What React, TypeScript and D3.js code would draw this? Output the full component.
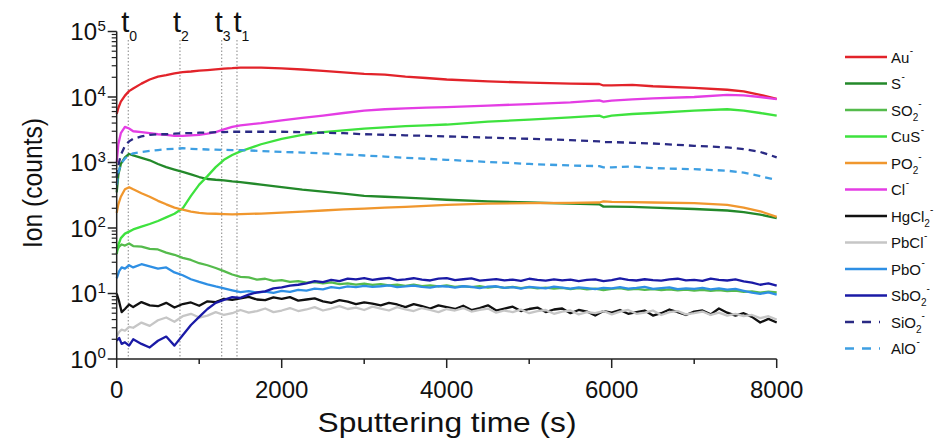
import React from 'react';
import * as d3 from 'd3';

const W = 941;
const H = 441;

// time grids (s)
const tSmooth = [0, 20, 50, 100, 150, 200, 300, 400, 500, 600, 700, 800, 900, 1000, 1100, 1200, 1300, 1400, 1500,
  1750, 2000, 2250, 2500, 2750, 3000, 3250, 3500, 3750, 4000, 4500, 5000, 5500, 5850, 5900, 6000, 6250, 6500,
  7000, 7400, 7600, 7800, 8000];
const tNoisy = [0, 30, 60, 100, 150, ...d3.range(200, 8001, 100)];

// smooth series (counts) on tSmooth
const au = [5500, 6800, 8500, 10500, 12300, 13500, 16000, 18500, 20500, 21500, 23000, 24000, 24500, 25200, 25800,
  26500, 27200, 27500, 28000, 28000, 27300, 26300, 25000, 23800, 22500, 22000, 20500, 19500, 18500, 17300, 16600,
  16000, 15800, 15000, 15100, 15300, 14600, 13800, 12900, 12200, 10800, 9400];
const s = [350, 650, 950, 1200, 1350, 1280, 1180, 1080, 950, 850, 780, 720, 660, 600, 560, 545, 535, 515, 500, 460,
  420, 385, 360, 335, 310, 300, 290, 280, 270, 255, 245, 235, 230, 212, 212, 210, 205, 195, 185, 175, 160, 142];
const cus = [40, 55, 70, 82, 88, 95, 105, 115, 128, 145, 165, 200, 310, 460, 620, 850, 1100, 1300, 1480, 1900, 2300,
  2650, 2900, 3100, 3300, 3450, 3600, 3700, 3800, 4200, 4500, 4900, 5200, 4900, 5200, 5500, 5700, 6200, 6500, 6200,
  5700, 5200];
const po2 = [170, 230, 300, 390, 420, 390, 340, 300, 260, 230, 205, 190, 178, 170, 166, 165, 163, 162, 163, 166, 172,
  178, 185, 192, 198, 204, 210, 218, 225, 235, 240, 242, 245, 255, 250, 248, 245, 240, 225, 205, 180, 148];
const cl = [1000, 1900, 2800, 3500, 3300, 3000, 2900, 2800, 2700, 2650, 2550, 2550, 2600, 2650, 2750, 2900, 3200, 3500,
  3700, 4000, 4400, 4800, 5200, 5700, 6200, 6500, 6700, 6900, 7000, 7400, 7800, 8300, 8900, 8500, 8800, 9200, 9500,
  10000, 10800, 10600, 10000, 9300];
const sio2 = [600, 900, 1300, 1800, 2100, 2300, 2500, 2650, 2700, 2700, 2750, 2800, 2800, 2850, 2850, 2900, 2900, 2950,
  2950, 2950, 2950, 2900, 2850, 2800, 2700, 2650, 2600, 2550, 2500, 2400, 2300, 2200, 2100, 2050, 2050, 2000, 1950,
  1800, 1700, 1600, 1450, 1200];
const alo = [450, 700, 950, 1150, 1300, 1380, 1450, 1500, 1550, 1600, 1620, 1650, 1620, 1600, 1580, 1570, 1560, 1550,
  1550, 1500, 1450, 1420, 1380, 1330, 1280, 1230, 1180, 1140, 1100, 1020, 950, 900, 880, 840, 840, 870, 820, 790,
  750, 700, 620, 540];

// noisy series (counts) on tNoisy
const so2 = [45, 52, 56, 54, 58,
  53, 52, 48, 47, 42, 39, 35, 32.5, 29,
  27, 24.5, 22, 19.5, 18, 17.6, 16.3, 16.8, 15.6, 16.0,
  15.0, 15.5, 14.6, 14.9, 14.3, 14.8, 13.9, 14.3, 13.7, 14.2,
  13.5, 13.9, 13.3, 13.6, 13.1, 13.6, 12.9, 13.3, 12.8, 13.3,
  12.6, 13.0, 12.5, 12.9, 12.3, 12.7, 12.2, 12.6, 12.1, 12.5,
  12.0, 12.3, 11.9, 12.2, 11.7, 12.1, 11.6, 11.9, 11.3, 11.8,
  12.1, 11.5, 11.8, 11.4, 11.7, 11.3, 11.6, 11.2, 11.5, 11.1,
  11.4, 11.0, 11.3, 10.9, 11.1, 10.6, 10.8, 10.3, 10.7, 10.4];
const hgcl2 = [10, 7.5, 5.2, 5.8, 6.8,
  6.2, 7.4, 6.6, 6.4, 7.2, 6.1, 6.9, 7.3, 6.5,
  7.6, 7.4, 8.3, 8.0, 8.4, 8.9, 8.1, 7.9, 8.7, 8.3,
  8.8, 7.8, 8.1, 8.4, 7.6, 7.2, 7.9, 7.5, 6.9, 7.3,
  7.0, 6.6, 7.2, 6.8, 6.2, 6.9, 6.4, 5.9, 6.6, 6.2,
  5.8, 6.5, 5.6, 6.0, 6.6, 5.5, 5.9, 6.3, 5.4, 5.8,
  6.1, 5.2, 5.7, 5.9, 5.0, 5.6, 5.3, 4.6, 5.4, 5.1,
  5.6, 4.9, 5.2, 5.5, 4.6, 5.0, 5.7, 5.2, 4.7, 5.3,
  5.5, 4.8, 5.9, 5.1, 4.6, 5.0, 4.4, 3.6, 4.1, 3.6];
const pbcl = [2.2, 2.6, 2.8, 2.7, 3.1,
  3.0, 3.6, 3.2, 3.9, 4.3, 3.7, 4.5, 4.9, 4.3,
  4.6, 5.2, 4.7, 5.0, 5.6, 5.1, 5.4, 5.9, 5.2, 5.5,
  6.0, 5.4, 5.7, 6.2, 5.5, 5.9, 6.4, 5.8, 6.1, 5.6,
  6.3, 5.9, 5.5, 6.2, 5.7, 5.4, 6.0, 5.6, 5.2, 5.8,
  5.5, 6.0, 5.3, 5.6, 5.9, 5.1, 5.5, 5.2, 5.7, 5.0,
  5.4, 5.6, 4.9, 5.3, 5.5, 4.8, 5.2, 5.0, 5.4, 4.8,
  5.3, 5.6, 4.9, 5.1, 5.5, 4.7, 5.2, 5.4, 4.8, 5.0,
  5.3, 4.7, 5.1, 4.6, 4.9, 4.5, 4.7, 4.2, 4.5, 4.0];
const pbo = [17, 22, 25, 24, 27,
  25, 28, 26, 24, 25, 21, 19, 16.5, 15,
  13.8, 12.8, 12.0, 11.2, 10.5, 10.9, 10.3, 10.7, 10.2, 11.0,
  10.6, 11.4, 11.1, 11.9, 11.6, 12.5, 12.1, 12.8, 12.5, 13.1,
  12.6, 12.9, 13.3, 12.5, 12.8, 13.2, 12.6, 12.3, 13.0, 12.8,
  12.3, 12.9, 12.6, 12.1, 12.7, 12.9, 12.2, 12.5, 11.9, 12.6,
  12.3, 12.0, 12.7, 12.3, 11.9, 12.4, 12.1, 11.7, 12.2, 12.0,
  12.5, 11.9, 12.2, 12.6, 11.8, 12.1, 12.4, 11.7, 12.0, 11.8,
  12.2, 11.6, 12.0, 11.5, 11.8, 11.0, 10.3, 9.9, 10.4, 9.6];
const sbo2 = [1.9, 2.1, 1.7, 1.8, 1.6,
  2.0, 1.7, 1.5, 1.9, 2.2, 1.6, 2.3, 3.3, 4.4,
  5.8, 7.2, 8.0, 8.8, 8.6, 9.6, 10.4, 10.8, 12.0, 12.4,
  13.2, 13.6, 14.3, 15.4, 14.9, 16.1, 15.4, 16.9, 16.4, 17.2,
  16.2, 16.8, 17.3, 16.0, 16.4, 17.1, 16.3, 15.8, 16.9, 17.2,
  16.0, 16.5, 17.0, 15.7, 16.2, 16.6, 15.9, 16.3, 15.6, 16.8,
  16.1, 15.7, 16.4, 15.9, 16.3, 15.5, 16.1, 16.4, 15.4, 16.0,
  17.0, 16.2, 15.8, 16.5, 16.0, 15.7, 16.4, 16.8, 15.9, 16.2,
  15.6, 16.9, 16.1, 15.8, 16.4, 15.3, 14.6, 13.6, 14.3, 13.2];

// legend labels
const names = ['Au', 'S', 'SO', 'CuS', 'PO', 'Cl', 'HgCl', 'PbCl', 'PbO', 'SbO', 'SiO', 'AlO'];
const subs = ['', '', '2', '', '2', '', '2', '', '', '2', '2', ''];
const colors = ['#e2232a', '#23892a', '#55bb4c', '#3ee23e', '#f0972e', '#e43de4', '#111111', '#c6c6c6',
  '#2e8fe4', '#1a1aa6', '#2a2a84', '#3e9fe2'];
const dashed = [false, false, false, false, false, false, false, false, false, false, true, true];
const seriesT = [tSmooth, tSmooth, tNoisy, tSmooth, tSmooth, tSmooth, tNoisy, tNoisy, tNoisy, tNoisy, tSmooth, tSmooth];
const seriesV = [au, s, so2, cus, po2, cl, hgcl2, pbcl, pbo, sbo2, sio2, alo];

// x ticks, y decades, marker times
const xMajor = [0, 2000, 4000, 6000, 8000];
const xMinor = [1000, 3000, 5000, 7000];
const yExp = [0, 1, 2, 3, 4, 5];
const markT = [140, 767, 1273, 1458];
const markSub = ['0', '2', '3', '1'];

const FONT = 'Liberation Sans, Arial, Helvetica, sans-serif';

export default function App() {
  const x = d3.scaleLinear().domain([0, 8000]).range([116.7, 776.7]);
  const y = d3.scaleLog().domain([1, 1e5]).range([359, 31.5]);
  const yMinor: number[] = [];
  for (let k = 0; k < 5; k++) for (let m = 2; m <= 9; m++) yMinor.push(m * Math.pow(10, k));

  const line = d3.line<[number, number]>().x(d => x(d[0])).y(d => y(d[1]));

  const x0 = x(0), x1 = x(8000), yb = y(1), yt = y(1e5);

  return (
    <svg width={W} height={H} style={{ position: 'absolute', left: 0, top: 0, background: '#fff' }}
      fontFamily={FONT}>
      {/* marker lines */}
      {markT.map((t, i) => (
        <g key={'m' + i}>
          <line x1={x(t)} x2={x(t)} y1={40} y2={yb} stroke="#777" strokeWidth={0.9} strokeDasharray="1.5 2" />
          <text x={x(t) - (i === 3 ? 3.5 : 7)} y={32} fontSize={29} fill="#111">t
            <tspan fontSize={14} dy={9}>{markSub[i]}</tspan>
          </text>
        </g>
      ))}

      {/* series */}
      {seriesV.map((v, i) => (
        <path key={'s' + i}
          d={line(seriesT[i].map((t, j) => [t, v[j]] as [number, number])) || ''}
          fill="none" stroke={colors[i]} strokeWidth={2.3} strokeLinejoin="round"
          strokeDasharray={dashed[i] ? '7 5' : undefined} />
      ))}

      {/* axes */}
      <line x1={x0} x2={x0} y1={yt} y2={yb} stroke="#222" strokeWidth={1.5} />
      <line x1={x0} x2={x1} y1={yb} y2={yb} stroke="#222" strokeWidth={1.5} />
      {xMajor.map(v => (
        <g key={'xm' + v}>
          <line x1={x(v)} x2={x(v)} y1={yb} y2={yb + 9} stroke="#222" strokeWidth={1.5} />
          <text x={x(v)} y={398} textAnchor="middle" fontSize={24} fill="#111">{v}</text>
        </g>
      ))}
      {xMinor.map(v => (
        <line key={'xn' + v} x1={x(v)} x2={x(v)} y1={yb} y2={yb + 5} stroke="#222" strokeWidth={1.5} />
      ))}
      {yExp.map(e => (
        <g key={'ym' + e}>
          <line x1={x0 - 9} x2={x0} y1={y(Math.pow(10, e))} y2={y(Math.pow(10, e))} stroke="#222" strokeWidth={1.5} />
          <text x={97} y={y(Math.pow(10, e)) + 8.5} textAnchor="end" fontSize={24} fill="#111">10</text>
          <text x={97.5} y={y(Math.pow(10, e)) - 1} fontSize={15} fill="#111">{e}</text>
        </g>
      ))}
      {yMinor.map((v, i) => (
        <line key={'yn' + i} x1={x0 - 5} x2={x0} y1={y(v)} y2={y(v)} stroke="#222" strokeWidth={1.2} />
      ))}

      {/* axis titles */}
      <text x={447} y={432} textAnchor="middle" fontSize={28} fill="#111" textLength={259}
        lengthAdjust="spacingAndGlyphs">Sputtering time (s)</text>
      <text transform="translate(42,183) rotate(-90)" textAnchor="middle" fontSize={27} fill="#111"
        textLength={130} lengthAdjust="spacingAndGlyphs">Ion (counts)</text>

      {/* legend */}
      {names.map((n, i) => {
        const ly = 57 + i * 26.5;
        return (
          <g key={'l' + i}>
            {dashed[i] ? (
              <line x1={845} x2={880} y1={ly} y2={ly} stroke={colors[i]} strokeWidth={2.5} strokeDasharray="9 8" />
            ) : (
              <line x1={845} x2={887} y1={ly} y2={ly} stroke={colors[i]} strokeWidth={2.5} />
            )}
            <text x={891} y={ly + 5.5} fontSize={15} fill="#111">{n}
              {subs[i] ? <tspan fontSize={10} dy={5}>{subs[i]}</tspan> : null}
              <tspan fontSize={10} dy={subs[i] ? -14 : -9} dx={subs[i] ? 0 : 0.5}>-</tspan>
            </text>
          </g>
        );
      })}
    </svg>
  );
}
